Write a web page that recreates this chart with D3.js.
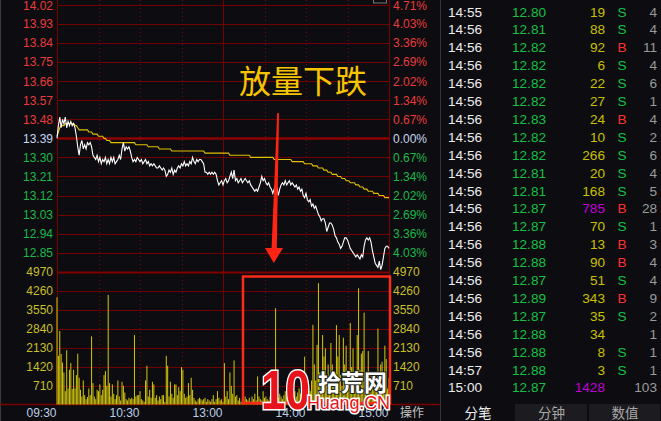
<!DOCTYPE html>
<html><head><meta charset="utf-8">
<script src="https://cdn.jsdelivr.net/npm/d3@7"></script>
<style>
html,body{margin:0;padding:0;background:#0d0d11;overflow:hidden}
svg{display:block}
</style></head>
<body>
<svg id="c" width="661" height="421"></svg>
<script>
// ---------- DATA ----------
const prevClose = 13.39;
const priceTicks = [14.02,13.93,13.84,13.75,13.66,13.57,13.48,13.39,13.30,13.21,13.12,13.03,12.94,12.85];
const pctTicks = ["4.71%","4.03%","3.36%","2.69%","2.02%","1.34%","0.67%","0.00%","0.67%","1.34%","2.02%","2.69%","3.36%","4.03%"];
const volTicks = [4970,4260,3550,2840,2130,1420,710];
const timeTickMinutes = [0,60,120,180,240];
const timeLabels = ["09:30","10:30","13:00","14:00","15:00"];
const gridMinutes = [0,30,60,90,120,150,180,210,240];
const solidGridMinutes = [0,120,240];

const prices = [
13.39,13.45,13.49,13.44,13.48,13.46,13.49,13.44,13.47,13.45,
13.47,13.45,13.46,13.44,13.40,13.35,13.31,13.36,13.38,13.34,
13.36,13.34,13.37,13.36,13.37,13.35,13.31,13.30,13.29,13.31,
13.28,13.30,13.27,13.29,13.28,13.30,13.27,13.29,13.27,13.30,
13.28,13.30,13.27,13.28,13.29,13.31,13.29,13.34,13.37,13.33,
13.35,13.34,13.35,13.33,13.30,13.28,13.29,13.28,13.30,13.29,
13.28,13.29,13.27,13.28,13.29,13.27,13.28,13.26,13.27,13.26,
13.27,13.26,13.25,13.25,13.26,13.25,13.24,13.25,13.24,13.21,
13.22,13.24,13.23,13.25,13.22,13.24,13.23,13.25,13.26,13.25,
13.27,13.26,13.28,13.26,13.27,13.26,13.28,13.27,13.30,13.28,
13.27,13.29,13.28,13.29,13.29,13.28,13.27,13.23,13.23,13.22,
13.23,13.22,13.23,13.22,13.23,13.22,13.19,13.17,13.18,13.19,
13.17,13.19,13.20,13.18,13.19,13.21,13.23,13.20,13.24,13.19,
13.20,13.18,13.19,13.20,13.18,13.19,13.20,13.19,13.18,13.19,
13.17,13.16,13.15,13.14,13.15,13.14,13.16,13.18,13.21,13.19,
13.20,13.18,13.17,13.18,13.16,13.15,13.13,13.15,13.17,13.16,
13.12,13.15,13.17,13.18,13.17,13.19,13.17,13.18,13.19,13.17,
13.18,13.17,13.16,13.17,13.15,13.16,13.14,13.15,13.12,13.11,
13.13,13.10,13.09,13.10,13.07,13.08,13.06,13.07,13.05,13.03,
13.02,13.00,13.01,13.01,12.99,12.95,12.97,12.99,12.99,12.98,
12.96,12.93,12.92,12.90,12.89,12.87,12.88,12.90,12.92,12.92,
12.91,12.89,12.87,12.86,12.85,12.84,12.83,12.84,12.83,12.82,
12.84,12.83,12.88,12.91,12.92,12.91,12.92,12.90,12.86,12.83,
12.80,12.79,12.78,12.81,12.77,12.79,12.83,12.87,12.88,12.88,12.87
];

const avgPrices = [
13.40,13.42,13.44,13.45,13.45,13.45,13.46,13.46,13.46,13.46,
13.46,13.46,13.46,13.45,13.45,13.44,13.43,13.43,13.43,13.43,
13.43,13.43,13.43,13.42,13.42,13.42,13.41,13.41,13.41,13.41,
13.40,13.40,13.40,13.40,13.39,13.39,13.38,13.38,13.38,13.37,
13.37,13.37,13.37,13.37,13.37,13.37,13.37,13.37,13.37,13.37,
13.37,13.37,13.37,13.37,13.37,13.37,13.37,13.36,13.36,13.36,
13.36,13.36,13.36,13.36,13.36,13.36,13.35,13.35,13.35,13.35,
13.35,13.35,13.35,13.35,13.34,13.34,13.34,13.34,13.34,13.34,
13.34,13.34,13.34,13.33,13.33,13.33,13.33,13.33,13.33,13.33,
13.33,13.33,13.33,13.33,13.33,13.33,13.33,13.33,13.33,13.33,
13.33,13.33,13.33,13.33,13.33,13.33,13.33,13.32,13.32,13.32,
13.32,13.32,13.32,13.32,13.32,13.32,13.32,13.32,13.32,13.32,
13.32,13.32,13.32,13.32,13.32,13.31,13.31,13.31,13.31,13.31,
13.31,13.31,13.31,13.31,13.31,13.31,13.31,13.31,13.31,13.31,
13.30,13.30,13.30,13.30,13.30,13.30,13.30,13.30,13.30,13.30,
13.30,13.30,13.30,13.30,13.30,13.30,13.30,13.29,13.29,13.29,
13.29,13.29,13.29,13.29,13.29,13.29,13.29,13.29,13.29,13.29,
13.28,13.28,13.28,13.28,13.28,13.28,13.28,13.28,13.28,13.27,
13.27,13.27,13.27,13.27,13.27,13.26,13.26,13.26,13.26,13.25,
13.25,13.25,13.25,13.24,13.24,13.24,13.23,13.23,13.23,13.22,
13.22,13.22,13.22,13.21,13.21,13.21,13.20,13.20,13.20,13.19,
13.19,13.19,13.18,13.18,13.18,13.18,13.17,13.17,13.17,13.16,
13.16,13.16,13.15,13.15,13.15,13.14,13.14,13.14,13.14,13.13,
13.13,13.13,13.13,13.12,13.12,13.12,13.12,13.11,13.11,13.11,13.11
];

const volumes = [
4010,1820,2750,1890,1570,1200,500,2030,600,1300,
1550,580,1300,600,1100,1900,1000,550,300,900,
350,200,280,600,350,2550,800,300,200,550,
500,750,350,550,1100,1250,700,4100,800,300,
750,400,200,350,900,300,150,850,700,450,
200,150,250,200,250,200,2600,300,350,350,
500,200,150,100,900,1450,300,550,250,850,
750,250,350,150,300,200,350,350,100,1820,
1450,300,850,400,250,750,750,350,650,500,
1400,1300,400,250,300,800,350,1000,550,250,
150,100,200,250,200,150,200,250,100,200,
150,100,200,350,100,200,500,250,150,200,
100,1550,300,500,200,1200,700,400,1650,300,
350,150,250,100,200,150,300,200,150,250,
100,300,200,400,150,1050,300,200,150,500,
250,300,200,150,300,250,400,200,3600,300,
250,400,300,200,350,500,300,250,400,300,
200,350,500,300,450,600,400,300,800,1790,
700,1000,600,500,900,2980,1500,900,2230,4540,
1200,900,2600,1800,2100,1000,1500,700,2300,1500,
1000,800,2970,1800,2600,1100,700,2500,1500,2200,
1200,800,3050,1400,2100,1000,700,2600,4350,1300,
1900,2000,3440,1200,800,2000,1000,1100,900,600,
700,500,2840,800,1500,1600,900,2200,1700,600,1000
];

const tradeTimes  = ["14:55","14:56","14:56","14:56","14:56","14:56","14:56","14:56","14:56","14:56","14:56","14:56","14:56","14:56","14:56","14:56","14:56","14:56","14:56","14:56","14:57","15:00"];
const tradePrices = ["12.80","12.81","12.82","12.82","12.82","12.82","12.83","12.82","12.82","12.81","12.81","12.87","12.87","12.88","12.88","12.87","12.89","12.87","12.88","12.88","12.88","12.87"];
const tradeVols   = [19,88,92,6,22,27,24,10,266,20,168,785,70,13,90,51,343,35,34,8,3,1428];
const tradeSides  = ["S","S","B","S","S","S","B","S","S","S","S","B","S","B","B","S","B","S","","S","S",""];
const tradeCounts = [4,4,11,4,6,1,4,2,6,4,5,28,1,3,4,4,9,2,1,1,1,103];
const tabLabels = ["分笔","分钟","数值"];
const annotationText = "放量下跌";

// ---------- SETUP ----------
const svg = d3.select("#c");
const FONT = "'Liberation Sans', Arial, sans-serif";
const CJK = "'Noto Sans CJK SC', sans-serif";
const RED_T = "#e83c3c", GREEN_T = "#1eb84a", ZERO_T = "#c8d6f0", VOL_T = "#c8bf2a", TIME_T = "#bccde6";
const GRID = "#700000";

svg.append("rect").attr("width",661).attr("height",421).attr("fill","#0d0d11");

const x = d3.scaleLinear().domain([0,240]).range([57,389]);
const yP = d3.scaleLinear().domain([12.76,14.02]).range([271.7,5]);
const yV = d3.scaleLinear().domain([0,4970]).range([404.5,271.7]);

// left border
svg.append("line").attr("x1",0.5).attr("x2",0.5).attr("y1",0).attr("y2",421).attr("stroke","#3a3a3a");

// ---------- GRID ----------
const g = svg.append("g");
g.selectAll(".hp").data(priceTicks).join("line")
  .attr("x1",57).attr("x2",389)
  .attr("y1",d=>Math.round(yP(d))+0.5).attr("y2",d=>Math.round(yP(d))+0.5)
  .attr("stroke", d=>d===prevClose ? "#8c0000" : GRID)
  .attr("stroke-width", d=>d===prevClose ? 2.5 : 1);
g.selectAll(".hv").data(volTicks).join("line")
  .attr("x1",57).attr("x2",389)
  .attr("y1",d=>Math.round(yV(d))+0.5).attr("y2",d=>Math.round(yV(d))+0.5)
  .attr("stroke", d=>d===4970 ? "#800000" : GRID)
  .attr("stroke-width", d=>d===4970 ? 2 : 1);
g.selectAll(".vg").data(gridMinutes).join("line")
  .attr("x1",d=>Math.round(x(d))+0.5).attr("x2",d=>Math.round(x(d))+0.5)
  .attr("y1",0).attr("y2",404)
  .attr("stroke", d=>solidGridMinutes.includes(d) ? "#7a0000" : "#8a0000")
  .attr("stroke-dasharray", d=>solidGridMinutes.includes(d) ? null : "1,3");
// bottom baseline
svg.append("line").attr("x1",0).attr("x2",440).attr("y1",404.5).attr("y2",404.5)
  .attr("stroke","#7a0000").attr("stroke-width",1.5);
// small box top right
svg.append("rect").attr("x",373.5).attr("y",-6).attr("width",13).attr("height",9)
  .attr("fill","none").attr("stroke","#777");

// ---------- VOLUME BARS ----------
svg.append("g").selectAll("rect").data(volumes).join("rect")
  .attr("x",(d,i)=>x(i)-0.5).attr("width",1)
  .attr("y",d=>yV(d)).attr("height",d=>yV(0)-yV(d))
  .attr("fill","#d2c60c");

// ---------- LINES ----------
svg.append("path").datum(avgPrices)
  .attr("d", d3.line().x((d,i)=>x(i)).y(d=>yP(d)))
  .attr("fill","none").attr("stroke","#e2c000").attr("stroke-width",1.1);
svg.append("path").datum(prices)
  .attr("d", d3.line().x((d,i)=>x(i)).y(d=>yP(d)))
  .attr("fill","none").attr("stroke","#ffffff").attr("stroke-width",1.1);

// ---------- AXES ----------
function styleAxis(sel){
  sel.select(".domain").remove();
  sel.selectAll("line").remove();
  sel.selectAll("text").attr("font-family",FONT).attr("font-size",12);
}
const pColor = d => d>prevClose+1e-9 ? RED_T : (d<prevClose-1e-9 ? GREEN_T : ZERO_T);

svg.append("g").attr("transform","translate(57,0)")
  .call(d3.axisLeft(yP).tickValues(priceTicks).tickFormat(d3.format(".2f")).tickSize(0).tickPadding(4))
  .call(styleAxis).selectAll("text").attr("fill",d=>pColor(d)).attr("dy",(d,i)=>i===0?"0.4em":"0.32em");
svg.append("g").attr("transform","translate(389,0)")
  .call(d3.axisRight(yP).tickValues(priceTicks).tickFormat((d,i)=>pctTicks[i]).tickSize(0).tickPadding(4))
  .call(styleAxis).selectAll("text").attr("fill",d=>pColor(d)).attr("dy",(d,i)=>i===0?"0.4em":"0.32em");
svg.append("g").attr("transform","translate(57,0)")
  .call(d3.axisLeft(yV).tickValues(volTicks).tickFormat(d3.format("d")).tickSize(0).tickPadding(4))
  .call(styleAxis).selectAll("text").attr("fill",VOL_T);
svg.append("g").attr("transform","translate(389,0)")
  .call(d3.axisRight(yV).tickValues(volTicks).tickFormat(d3.format("d")).tickSize(0).tickPadding(4))
  .call(styleAxis).selectAll("text").attr("fill",VOL_T);
svg.append("g").attr("transform","translate(0,404)")
  .call(d3.axisBottom(x).tickValues(timeTickMinutes).tickFormat((d,i)=>timeLabels[i]).tickSize(0).tickPadding(4))
  .call(styleAxis).selectAll("text").attr("fill",TIME_T).attr("text-anchor","end").attr("dx",-1);

svg.append("text").attr("x",400).attr("y",417).attr("font-family",CJK).attr("font-size",12)
  .attr("fill","#c4c4c4").text("操作");

// ---------- TRADE LIST ----------
svg.append("line").attr("x1",440.5).attr("x2",440.5).attr("y1",0).attr("y2",421).attr("stroke","#333338");
const rowY = i => 11.7 + i*17.9;
const tl = svg.append("g").attr("font-family",FONT).attr("font-size",13.6);
tl.selectAll(".tt").data(tradeTimes).join("text")
  .attr("x",448).attr("y",(d,i)=>rowY(i)).attr("dy","0.36em").attr("fill","#ececec").text(d=>d);
tl.selectAll(".tp").data(tradePrices).join("text")
  .attr("x",512).attr("y",(d,i)=>rowY(i)).attr("dy","0.36em").attr("fill","#16c044").text(d=>d);
tl.selectAll(".tv").data(tradeVols).join("text")
  .attr("x",605).attr("y",(d,i)=>rowY(i)).attr("dy","0.36em").attr("text-anchor","end")
  .attr("fill",d=>d>=500 ? "#c000d8" : "#c8c000").text(d=>d);
tl.selectAll(".ts").data(tradeSides).join("text")
  .attr("x",617.5).attr("y",(d,i)=>rowY(i)).attr("dy","0.36em")
  .attr("fill",d=>d==="B" ? "#ff3030" : "#16c044").text(d=>d);
tl.selectAll(".tc").data(tradeCounts).join("text")
  .attr("x",657).attr("y",(d,i)=>rowY(i)).attr("dy","0.36em").attr("text-anchor","end")
  .attr("fill","#9a9a9a").text(d=>d);

// tabs
const tabX = [441,515,589];
const tabW = [74,73,72];
svg.append("g").selectAll("rect").data(tabLabels).join("rect")
  .attr("x",(d,i)=>tabX[i]).attr("y",404).attr("width",(d,i)=>tabW[i]-1).attr("height",17)
  .attr("fill",(d,i)=>i===0 ? "#0d0d11" : "#1c1c20");
svg.append("g").selectAll("text").data(tabLabels).join("text")
  .attr("x",(d,i)=>tabX[i]+tabW[i]/2).attr("y",417.5).attr("text-anchor","middle")
  .attr("font-family",CJK).attr("font-size",13.5)
  .attr("fill",(d,i)=>i===0 ? "#f0f0f0" : "#a8a8a8").text(d=>d);

// ---------- ANNOTATIONS ----------
svg.append("text").attr("x",239).attr("y",93).attr("font-family",CJK).attr("font-size",32)
  .attr("fill","#f7c400").text(annotationText);
// arrow
svg.append("path")
  .attr("d","M277.2,113 L279,113 L276.8,248 L283,248 L273.8,263 L265,248 L271.6,248 Z")
  .attr("fill","#ff2414");
// highlight box
svg.append("rect").attr("x",243).attr("y",276.5).attr("width",147).attr("height",126.5)
  .attr("fill","none").attr("stroke","#ff2a1a").attr("stroke-width",2.5);

// watermark logo
const logo = svg.append("g");
logo.append("text").attr("transform","translate(261,409) scale(1,1.25)")
  .attr("font-family",FONT).attr("font-weight","bold")
  .attr("font-size",44).attr("fill","#e8141c").attr("stroke","#ffffff").attr("stroke-width",2.5)
  .attr("paint-order","stroke").text("10");
logo.append("text").attr("x",318).attr("y",391).attr("font-family",CJK).attr("font-weight","bold")
  .attr("font-size",23).attr("fill","#ffffff").attr("stroke","#222").attr("stroke-width",2)
  .attr("paint-order","stroke").text("拾荒网");
logo.append("text").attr("x",307).attr("y",409).attr("font-family",FONT)
  .attr("font-size",18).attr("fill","#e8141c").attr("stroke","#ffffff").attr("stroke-width",3)
  .attr("paint-order","stroke").attr("textLength",83).text("Huang.CN");
</script>
</body></html>
